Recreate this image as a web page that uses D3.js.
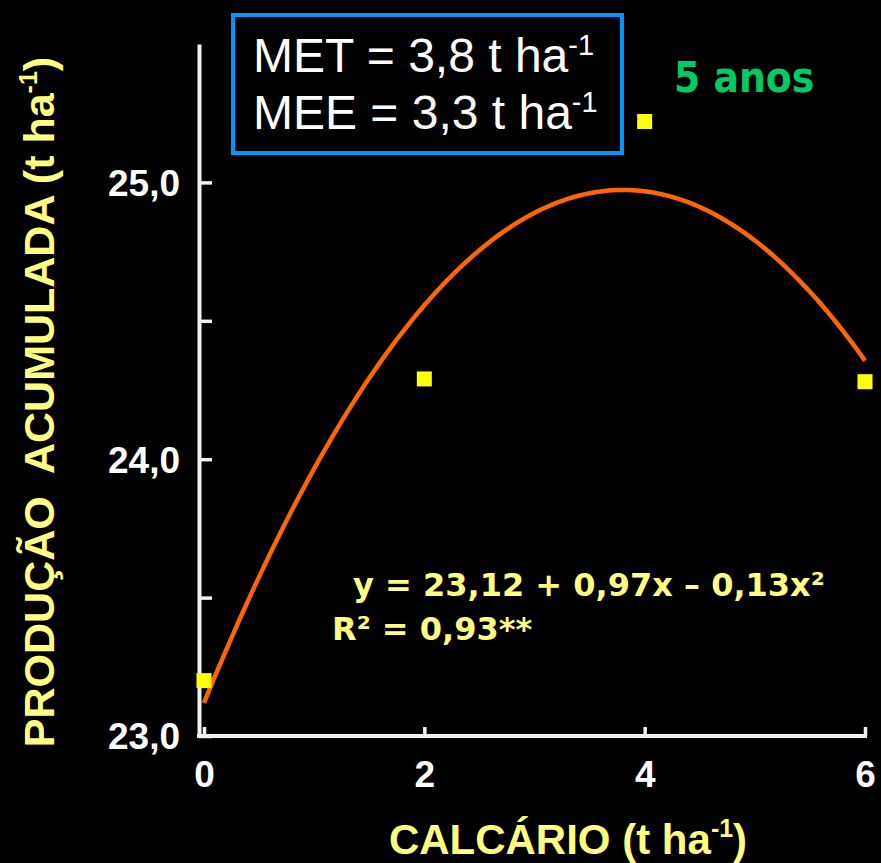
<!DOCTYPE html>
<html>
<head>
<meta charset="utf-8">
<script src="https://cdn.jsdelivr.net/npm/d3@7"></script>
<style>
  html, body { margin: 0; padding: 0; background: #000; }
  svg { display: block; }
  text { font-family: "Liberation Sans", Arial, sans-serif; }
</style>
</head>
<body>
<svg id="chart" width="881" height="863"></svg>
<script>
// Lime dose (t/ha) and accumulated yield (t/ha) after 5 years
const doses = [0, 2, 4, 6];
const yields = [23.20, 24.29, 25.22, 24.28];

// Quadratic fit y = b0 + b1*x + b2*x^2
const coef = [23.12, 0.974, -0.128];
const r2 = 0.93;

const yTicks = [23, 23.5, 24, 24.5, 25];
const yLabelTicks = [23, 24, 25];
const xTicks = [0, 2, 4, 6];

const MET = 3.8, MEE = 3.3;

const W = 881, H = 863;
const svg = d3.select("#chart");
svg.append("rect").attr("width", W).attr("height", H).attr("fill", "#000");

const x = d3.scaleLinear().domain([0, 6]).range([204, 865]);
const y = d3.scaleLinear().domain([23, 25.5]).range([736, 44]);
const axisX = 199;

const ptBR = d3.formatLocale({ decimal: ",", thousands: ".", grouping: [3], currency: ["R$", ""] });
const f1 = ptBR.format(".1f");
const f2 = ptBR.format(".2f");

// Y axis
const gy = svg.append("g").attr("transform", `translate(${axisX},0)`)
  .call(d3.axisLeft(y).tickValues(yTicks)
    .tickSizeInner(-13).tickSizeOuter(0).tickPadding(19)
    .tickFormat(d => yLabelTicks.includes(d) ? f1(d) : ""));
gy.select(".domain").attr("stroke", "#f2f2f2").attr("stroke-width", 4);
gy.selectAll(".tick line").attr("stroke", "#f2f2f2").attr("stroke-width", 3.5);
gy.selectAll(".tick text").attr("fill", "#fff").attr("font-size", 37)
  .attr("font-weight", "bold").attr("dy", "0.35em")
  .style("font-family", "'Liberation Sans', Arial, sans-serif");

// X axis
const gx = svg.append("g").attr("transform", `translate(0,${y(23)})`)
  .call(d3.axisBottom(x).tickValues(xTicks)
    .tickSizeInner(-9).tickSizeOuter(0).tickPadding(25)
    .tickFormat(d3.format("d")));
gx.select(".domain").remove();
gx.append("line").attr("x1", axisX - 2).attr("x2", x(6) + 2)
  .attr("y1", 0).attr("y2", 0).attr("stroke", "#f2f2f2").attr("stroke-width", 4);
gx.selectAll(".tick line").attr("stroke", "#f2f2f2").attr("stroke-width", 3.5);
gx.selectAll(".tick text").attr("fill", "#fff").attr("font-size", 37)
  .attr("font-weight", "bold")
  .style("font-family", "'Liberation Sans', Arial, sans-serif");

// Fitted curve
const fit = v => coef[0] + coef[1] * v + coef[2] * v * v;
const curvePts = d3.range(0, 6.0001, 0.05).map(v => [v, fit(v)]);
svg.append("path")
  .datum(curvePts)
  .attr("fill", "none").attr("stroke", "#ff6600").attr("stroke-width", 4.5)
  .attr("d", d3.line().x(d => x(d[0])).y(d => y(d[1])));

// Observed means
const sq = 15;
svg.append("g").selectAll("rect")
  .data(doses.map((d, i) => [d, yields[i]]))
  .join("rect")
  .attr("x", d => x(d[0]) - sq / 2)
  .attr("y", d => y(d[1]) - sq / 2)
  .attr("width", sq).attr("height", sq)
  .attr("fill", "#ffff00");

// Technical / economic optimum box
svg.append("rect").attr("x", 233).attr("y", 15).attr("width", 389).attr("height", 138)
  .attr("fill", "none").attr("stroke", "#0096ff").attr("stroke-width", 4);
function supLine(txtMain, base, xPos) {
  const t = svg.append("text").attr("x", xPos).attr("y", base)
    .attr("fill", "#fff").attr("font-size", 48);
  t.append("tspan").text(txtMain);
  t.append("tspan").attr("font-size", 29).attr("dy", -17).text("-1");
}
supLine(`MET = ${f1(MET)} t ha`, 72, 253);
supLine(`MEE = ${f1(MEE)} t ha`, 129, 253);

// Period label
svg.append("text").attr("x", 674).attr("y", 92)
  .attr("fill", "#00cc66").attr("font-size", 42).attr("font-weight", "bold")
  .style("font-family", "'DejaVu Sans Condensed', 'DejaVu Sans', Verdana, sans-serif")
  .text("5 anos");

// Regression equation
const eqFont = "'DejaVu Sans', Verdana, sans-serif";
svg.append("text").attr("x", 353).attr("y", 596)
  .attr("fill", "#ffff80").attr("font-size", 32).attr("font-weight", "bold")
  .style("font-family", eqFont)
  .text(`y = ${f2(coef[0])} + ${f2(coef[1])}x – ${f2(-coef[2])}x²`);
svg.append("text").attr("x", 332).attr("y", 640)
  .attr("fill", "#ffff80").attr("font-size", 32).attr("font-weight", "bold")
  .style("font-family", eqFont)
  .text(`R² = ${f2(r2)}**`);

// Axis titles
const xt = svg.append("text").attr("x", 568).attr("y", 854).attr("text-anchor", "middle")
  .attr("fill", "#ffff80").attr("font-size", 42).attr("font-weight", "bold");
xt.append("tspan").text("CALCÁRIO (t ha");
xt.append("tspan").attr("font-size", 25).attr("dy", -17).text("-1");
xt.append("tspan").attr("dy", 17).text(")");

const yt = svg.append("text")
  .attr("transform", "translate(54,402) rotate(-90)")
  .attr("text-anchor", "middle")
  .attr("fill", "#ffff80").attr("font-size", 43).attr("font-weight", "bold")
  .attr("xml:space", "preserve");
yt.append("tspan").text("PRODUÇÃO  ACUMULADA (t ha");
yt.append("tspan").attr("font-size", 25).attr("dy", -17).text("-1");
yt.append("tspan").attr("dy", 17).text(")");
</script>
</body>
</html>
